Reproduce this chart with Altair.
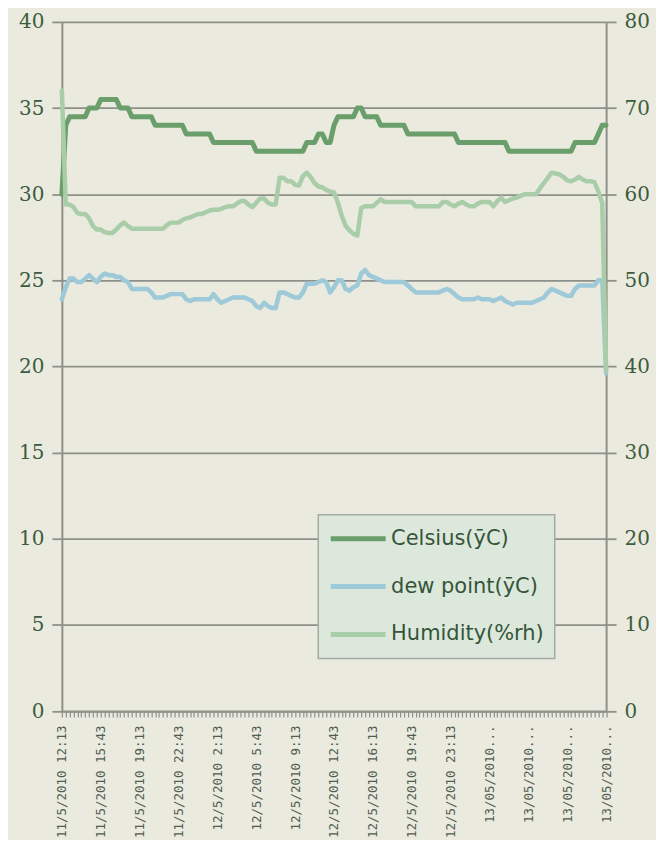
import json
import altair as alt
import pandas as pd

# ---------------- data ----------------
tick_labels = [
    "11/5/2010 12:13", "11/5/2010 15:43", "11/5/2010 19:13", "11/5/2010 22:43",
    "12/5/2010 2:13", "12/5/2010 5:43", "12/5/2010 9:13", "12/5/2010 12:43",
    "12/5/2010 16:13", "12/5/2010 19:43", "12/5/2010 23:13",
    "13/05/2010...", "13/05/2010...", "13/05/2010...", "13/05/2010...",
]

celsius = [
    30, 34, 34.5, 34.5, 34.5, 34.5, 34.5, 35, 35, 35,
    35.5, 35.5, 35.5, 35.5, 35.5, 35, 35, 35, 34.5, 34.5,
    34.5, 34.5, 34.5, 34.5, 34, 34, 34, 34, 34, 34,
    34, 34, 33.5, 33.5, 33.5, 33.5, 33.5, 33.5, 33.5, 33,
    33, 33, 33, 33, 33, 33, 33, 33, 33, 33,
    32.5, 32.5, 32.5, 32.5, 32.5, 32.5, 32.5, 32.5, 32.5, 32.5,
    32.5, 32.5, 32.5, 33, 33, 33, 33.5, 33.5, 33, 33,
    34, 34.5, 34.5, 34.5, 34.5, 34.5, 35, 35, 34.5, 34.5,
    34.5, 34.5, 34, 34, 34, 34, 34, 34, 34, 33.5,
    33.5, 33.5, 33.5, 33.5, 33.5, 33.5, 33.5, 33.5, 33.5, 33.5,
    33.5, 33.5, 33, 33, 33, 33, 33, 33, 33, 33,
    33, 33, 33, 33, 33, 32.5, 32.5, 32.5, 32.5, 32.5,
    32.5, 32.5, 32.5, 32.5, 32.5, 32.5, 32.5, 32.5, 32.5, 32.5,
    32.5, 32.5, 33, 33, 33, 33, 33, 33, 33.5, 34,
    34,
]

dew_point = [
    23.9, 24.6, 25.1, 25.1, 24.9, 24.9, 25.1, 25.3, 25.1, 24.9,
    25.2, 25.4, 25.3, 25.3, 25.2, 25.2, 25.0, 24.9, 24.5, 24.5,
    24.5, 24.5, 24.5, 24.3, 24.0, 24.0, 24.0, 24.1, 24.2, 24.2,
    24.2, 24.2, 23.9, 23.8, 23.9, 23.9, 23.9, 23.9, 23.9, 24.2,
    23.9, 23.7, 23.8, 23.9, 24.0, 24.0, 24.0, 24.0, 23.9, 23.8,
    23.5, 23.4, 23.7, 23.5, 23.4, 23.4, 24.3, 24.3, 24.2, 24.1,
    24.0, 24.0, 24.3, 24.8, 24.8, 24.8, 24.9, 25.0, 24.9, 24.3,
    24.6, 25.0, 25.0, 24.5, 24.4, 24.6, 24.7, 25.4, 25.6, 25.3,
    25.2, 25.1, 25.0, 24.9, 24.9, 24.9, 24.9, 24.9, 24.9, 24.7,
    24.5, 24.3, 24.3, 24.3, 24.3, 24.3, 24.3, 24.3, 24.4, 24.5,
    24.4, 24.2, 24.0, 23.9, 23.9, 23.9, 23.9, 24.0, 23.9, 23.9,
    23.9, 23.8, 23.9, 24.0, 23.8, 23.7, 23.6, 23.7, 23.7, 23.7,
    23.7, 23.7, 23.8, 23.9, 24.0, 24.3, 24.5, 24.4, 24.3, 24.2,
    24.1, 24.1, 24.5, 24.7, 24.7, 24.7, 24.7, 24.7, 25.0, 25.0,
    19.6,
]

humidity = [
    72.0, 58.8, 58.8, 58.5, 57.8, 57.7, 57.7, 57.2, 56.3, 55.9,
    55.9, 55.6, 55.5, 55.5, 55.9, 56.4, 56.7, 56.3, 56.0, 56.0,
    56.0, 56.0, 56.0, 56.0, 56.0, 56.0, 56.0, 56.4, 56.7, 56.7,
    56.7, 57.0, 57.2, 57.3, 57.5, 57.7, 57.7, 57.9, 58.1, 58.2,
    58.2, 58.3, 58.5, 58.6, 58.6, 58.9, 59.2, 59.2, 58.8, 58.5,
    59.0, 59.5, 59.5, 59.0, 58.8, 58.8, 61.9, 61.9, 61.5, 61.5,
    61.1, 61.0, 62.1, 62.5, 62.0, 61.3, 60.9, 60.8, 60.5, 60.3,
    60.2, 59.0, 57.5, 56.3, 55.8, 55.4, 55.2, 58.4, 58.6, 58.6,
    58.6, 59.0, 59.4, 59.1, 59.1, 59.1, 59.1, 59.1, 59.1, 59.1,
    59.1, 58.6, 58.6, 58.6, 58.6, 58.6, 58.6, 58.6, 59.1, 59.1,
    58.8, 58.6, 58.9, 59.1, 58.8, 58.6, 58.6, 58.9, 59.1, 59.1,
    59.1, 58.6, 59.2, 59.6, 59.1, 59.3, 59.5, 59.6, 59.8, 60.0,
    60.0, 60.0, 60.0, 60.7, 61.3, 61.9, 62.5, 62.4, 62.3, 62.0,
    61.6, 61.5, 61.7, 62.0, 61.7, 61.5, 61.5, 61.4, 60.3, 59.0,
    39.5,
]

series_names = ["Celsius(ȳC)", "dew point(ȳC)", "Humidity(%rh)"]
series_colors = ["#6a9e6a", "#9dc9d8", "#a9cda8"]

left_ticks = [0, 5, 10, 15, 20, 25, 30, 35, 40]
right_ticks = [0, 10, 20, 30, 40, 50, 60, 70, 80]

# ---------------- frames ----------------
n = len(celsius)
idx = list(range(n))
cel_df = pd.DataFrame({"i": idx, "value": celsius, "series": series_names[0]})
dew_df = pd.DataFrame({"i": idx, "value": dew_point, "series": series_names[1]})
hum_df = pd.DataFrame({"i": idx, "value": humidity, "series": series_names[2]})

axis_col = "#8e918a"
text_col = "#3d5c3d"
bg = "#eaeadf"

label_expr = ("datum.value % 10 === 0 ? " + json.dumps(tick_labels, ensure_ascii=False)
              + "[datum.value / 10] : ''")

x_enc = alt.X(
    "i:Q",
    scale=alt.Scale(domain=[0, n - 1], nice=False, zero=False),
    axis=alt.Axis(
        values=idx, labelExpr=label_expr, labelAngle=270, labelAlign="right",
        labelBaseline="middle", tickSize=6, tickWidth=1.2, tickColor=axis_col,
        domainColor=axis_col, domainWidth=2, labelPadding=8, grid=False,
        title=None, labelOverlap=False, labelBound=False, labelFlush=False,
        labelFont="DejaVu Sans Mono", labelFontSize=12.5, labelColor="#4f5d4f",
    ),
)

color_enc = alt.Color(
    "series:N",
    scale=alt.Scale(domain=series_names, range=series_colors),
    legend=alt.Legend(orient="none", legendX=257, legendY=494, title=None),
)

y_left = alt.Y(
    "value:Q",
    scale=alt.Scale(domain=[0, 40], nice=False),
    axis=alt.Axis(
        values=left_ticks, title=None, grid=True, gridColor=axis_col, gridWidth=1.8,
        tickSize=10, tickColor=axis_col, tickWidth=1.8, domainColor=axis_col,
        domainWidth=2, labelPadding=8, labelFont="DejaVu Serif", labelFontSize=20,
        labelColor=text_col,
    ),
)

y_right = alt.Y(
    "value:Q",
    scale=alt.Scale(domain=[0, 80], nice=False),
    axis=alt.Axis(
        orient="right", values=right_ticks, title=None, grid=False,
        tickSize=10, tickColor=axis_col, tickWidth=1.8, domainColor=axis_col,
        domainWidth=2, labelPadding=8, labelFont="DejaVu Serif", labelFontSize=20,
        labelColor=text_col,
    ),
)

line_style = dict(strokeJoin="round", strokeCap="round")

cel = alt.Chart(cel_df).mark_line(strokeWidth=5, **line_style).encode(
    x=x_enc, y=y_left, color=color_enc)
dew = alt.Chart(dew_df).mark_line(strokeWidth=4.5, **line_style).encode(
    x=x_enc, y=y_left, color=color_enc)
hum = alt.Chart(hum_df).mark_line(strokeWidth=4.5, **line_style).encode(
    x=x_enc, y=y_right, color=color_enc)

chart = (
    alt.layer(alt.layer(cel, dew), hum)
    .resolve_scale(y="independent")
    .properties(
        width=545.5, height=690.7,
        autosize=alt.AutoSizeParams(type="none"),
        padding={"left": 54, "top": 13, "right": 50, "bottom": 128},
        background=bg,
    )
    .configure_view(stroke=None, fill=bg)
    .configure_legend(
        fillColor="#dde8dc", strokeColor="#a4aba3", strokeWidth=1.5, padding=10,
        symbolType="stroke", symbolSize=3025, symbolStrokeWidth=5,
        clipHeight=28, rowPadding=20, labelFont="DejaVu Sans", labelFontSize=21,
        labelColor="#35553a", labelOffset=3, labelLimit=400,
    )
)

chart.save("out.html", embed_options={"renderer": "svg", "actions": False})
